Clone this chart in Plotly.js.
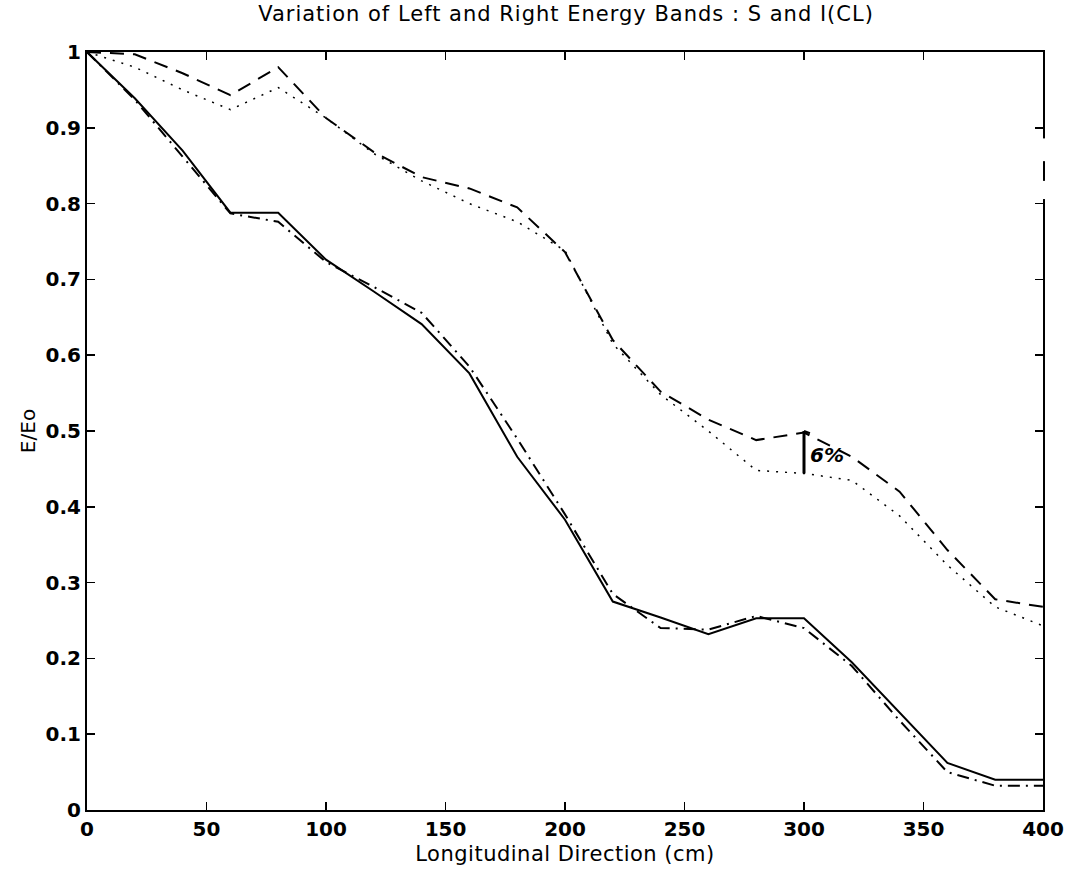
<!DOCTYPE html>
<html>
<head>
<meta charset="utf-8">
<script src="https://cdn.plot.ly/plotly-3.0.1.min.js"></script>
<style>
html,body{margin:0;padding:0;background:#fff;}
#chart{width:1070px;height:880px;}
#chart .gtitle{letter-spacing:1px;}
#chart .xtitle{letter-spacing:0.5px;}
</style>
</head>
<body>
<div id="chart"></div>
<script>
const positions = [0,20,40,60,80,100,120,140,160,180,200,220,240,260,280,300,320,340,360,380,400];
const solidLower = [1.0,0.939,0.870,0.788,0.788,0.726,0.684,0.641,0.576,0.466,0.383,0.275,0.254,0.232,0.253,0.253,0.195,0.128,0.062,0.040,0.040];
const dashDotLower = [1.0,0.937,0.862,0.787,0.776,0.723,0.690,0.656,0.585,0.490,0.390,0.285,0.240,0.238,0.256,0.240,0.190,0.118,0.050,0.032,0.032];
const dashedUpper = [1.0,0.997,0.972,0.943,0.980,0.913,0.868,0.835,0.820,0.795,0.736,0.620,0.552,0.515,0.488,0.498,0.466,0.420,0.343,0.278,0.268];
const dottedUpper = [1.0,0.980,0.950,0.924,0.953,0.913,0.866,0.830,0.800,0.776,0.738,0.615,0.548,0.500,0.448,0.444,0.435,0.388,0.323,0.268,0.243];
const yTickValues = [0,0.1,0.2,0.3,0.4,0.5,0.6,0.7,0.8,0.9,1];
const yTickLabels = ['0','0.1','0.2','0.3','0.4','0.5','0.6','0.7','0.8','0.9','1'];
const xTickValues = [0,50,100,150,200,250,300,350,400];
const xTickLabels = ['0','50','100','150','200','250','300','350','400'];
const titleText = 'Variation of Left and Right Energy Bands : S and I(CL)';
const xTitle = 'Longitudinal Direction (cm)';
const yTitle = 'E/Eo';
const gapX = 300, gapLow = 0.444, gapHigh = 0.500, gapLabel = '6%';

const traces = [
  {x: positions, y: solidLower, mode: 'lines', line: {color: '#000', width: 2, dash: 'solid'}},
  {x: positions, y: dashDotLower, mode: 'lines', line: {color: '#000', width: 2, dash: '12px,6px,2px,6px'}},
  {x: positions, y: dashedUpper, mode: 'lines', line: {color: '#000', width: 2, dash: '14px,9px'}},
  {x: positions, y: dottedUpper, mode: 'lines', line: {color: '#000', width: 1.5, dash: '2px,7px'}}
];

const fam = 'DejaVu Sans, sans-serif';
const tickFont = {family: fam, size: 20, color: '#000', weight: 700};
const axisCommon = {
  showgrid: false, zeroline: false, showline: true, linecolor: '#000', linewidth: 2,
  mirror: 'ticks', ticks: 'inside', ticklen: 8, tickwidth: 1.5, tickcolor: '#000',
  tickfont: tickFont, tickmode: 'array'
};

const layout = {
  width: 1070, height: 880,
  margin: {l: 87, r: 27, t: 52, b: 70},
  paper_bgcolor: '#fff', plot_bgcolor: '#fff',
  showlegend: false,
  title: {text: titleText, font: {family: fam, size: 21, color: '#000'},
          x: 0.529, xanchor: 'center', y: 0.984, yanchor: 'middle', yref: 'container'},
  xaxis: Object.assign({}, axisCommon, {
    range: [0, 400], tickvals: xTickValues, ticktext: xTickLabels,
    title: {text: xTitle, font: {family: fam, size: 21, color: '#000'}, standoff: 6}
  }),
  yaxis: Object.assign({}, axisCommon, {
    range: [0, 1], tickvals: yTickValues, ticktext: yTickLabels,
    title: {text: yTitle, font: {family: fam, size: 20, color: '#000'}, standoff: 5}
  }),
  shapes: [
    {type: 'line', xref: 'x', yref: 'y', x0: gapX, x1: gapX, y0: gapLow, y1: gapHigh, line: {color: '#000', width: 3}},
    {type: 'line', xref: 'x', yref: 'y', x0: gapX, x1: gapX + 2.5, y0: gapHigh, y1: gapHigh - 0.003, line: {color: '#000', width: 2}},
    {type: 'line', xref: 'paper', yref: 'y', x0: 1.001, x1: 1.001, y0: 0.856, y1: 0.886, line: {color: '#fff', width: 4}, layer: 'above'},
    {type: 'line', xref: 'paper', yref: 'y', x0: 1.001, x1: 1.001, y0: 0.806, y1: 0.830, line: {color: '#fff', width: 4}, layer: 'above'}
  ],
  annotations: [
    {xref: 'x', yref: 'y', x: gapX + 1.5, y: 0.468, xanchor: 'left', yanchor: 'middle', showarrow: false,
     text: '<i>' + gapLabel + '</i>', font: {family: fam, size: 20, color: '#000', weight: 700}}
  ]
};

Plotly.newPlot('chart', traces, layout, {displayModeBar: false, staticPlot: true});
</script>
</body>
</html>
